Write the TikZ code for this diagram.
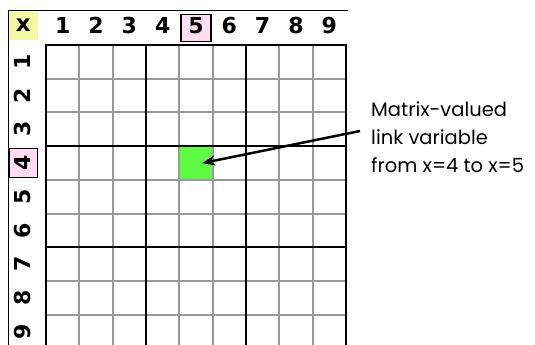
\documentclass[tikz,border=0pt]{standalone}
\usepackage{fontspec}
\setmainfont{DejaVu Sans}
\newfontfamily\notefont{Poppins}
\usetikzlibrary{arrows.meta,calc}
\definecolor{cellgreen}{HTML}{5EFB45}
\definecolor{markpink}{HTML}{FFDDF0}
\definecolor{headyellow}{HTML}{F2F9A3}
\definecolor{gridgray}{HTML}{9A9A9A}

\begin{document}
\begin{tikzpicture}[x=1pt, y=-1pt,
    digit/.style={inner sep=0, font=\fontsize{22}{22}\selectfont\bfseries},
    markbox/.style={draw, line width=1.5pt, fill=markpink, inner sep=0, minimum width=30, minimum height=27},
    gridline/.style={gridgray, line width=2pt},
    blockline/.style={black, line width=2pt},
    note/.style={inner sep=0, align=left, anchor=base west, font=\notefont\fontsize{19.5}{28}\selectfont},
    link/.style={line width=2.5pt, -{Stealth[length=13pt, width=10pt]}}
]
\useasboundingbox (0,0) rectangle (535,345);
\begin{scope}
\clip (0,0) rectangle (535,345);

% Frame
\draw[line width=1pt] (8,345) -- (8,11) -- (348,11);
\node[fill=headyellow, inner sep=0, minimum width=29, minimum height=28, anchor=north west,
      font=\fontsize{23}{23}\selectfont\bfseries] (corner) at (8.5,11.5) {x};

% Link cell
\node[fill=cellgreen, inner sep=0, minimum width=33.3, minimum height=33.7, anchor=north west] (cell) at (179.3,146.1) {};

% Grid
\foreach \i in {1,2,4,5,7,8} {
  \draw[gridline] ({46+33.33*\i},45) -- ({46+33.33*\i},352);
  \draw[gridline] (46,{45+33.7*\i}) -- (346,{45+33.7*\i});
}
\foreach \i in {0,3,6,9} {
  \draw[blockline] ({46+33.33*\i},44) -- ({46+33.33*\i},352);
  \draw[blockline] (45,{45+33.7*\i}) -- (347,{45+33.7*\i});
}

% Column labels
\node[markbox] (colmark) at ({46+33.33*4.5},27.8) {};
\foreach \i in {1,...,9}
  \node[digit] (col\i) at ({46+33.33*(\i-0.5)},25.5) {\i};

% Row labels
\node[markbox, minimum width=28, minimum height=29] (rowmark) at (23.5,163) {};
\foreach \i in {1,...,9}
  \node[digit, rotate=90] (row\i) at (22.5,{45+33.7*(\i-0.5)}) {\i};
\end{scope}

% Note
\node[note] (note) at (371,172) {Matrix-valued\\link variable\\from x=4 to x=5};
\draw[link] ($(note.base west)+(-11,-41)$) -- ($(cell.center)+(6,0)$);
\end{tikzpicture}
\end{document}
